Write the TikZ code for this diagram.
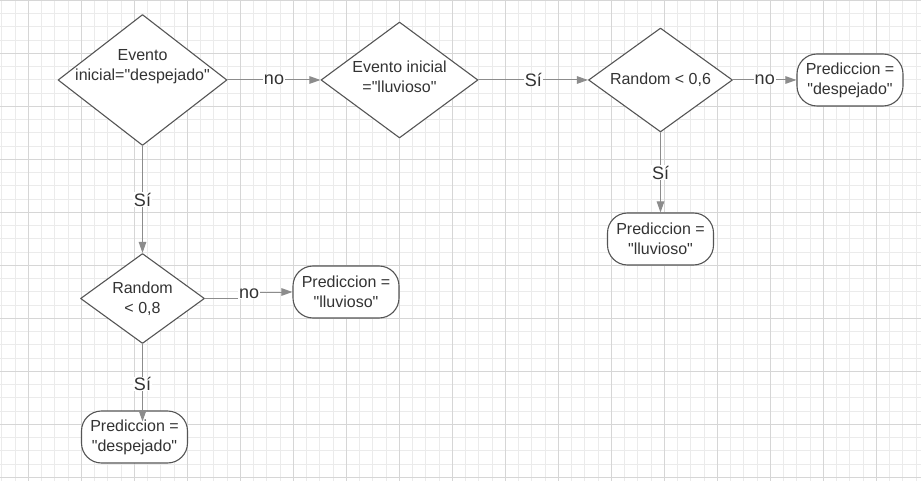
\documentclass[tikz,border=0pt]{standalone}
\usepackage{fontspec}
\setmainfont{Liberation Sans}[Ligatures=TeXOff]
\usepackage{xcolor}
\usepackage{tikz}
\usetikzlibrary{arrows.meta,positioning,shapes.geometric}
\definecolor{gridmajor}{HTML}{D6D6D6}
\definecolor{gridminor}{HTML}{EBEBEB}
\definecolor{shapeline}{HTML}{555555}
\definecolor{flowgray}{HTML}{8C8C8C}
\definecolor{ink}{HTML}{333333}
\tikzset{
    every picture/.style={line cap=round,line join=round},
    decision/.style={diamond,draw=shapeline,fill=white,line width=1.1pt,
      inner sep=0pt},
    dtext/.style={text=ink,font=\fontsize{16}{20}\selectfont,align=center,
      inner sep=0pt},
    outcome/.style={draw=shapeline,fill=white,line width=1.1pt,rounded corners=20pt,
      minimum width=106pt,minimum height=52pt,inner sep=2pt,
      text=ink,font=\fontsize{16}{20}\selectfont,align=center},
    flowarrow/.style={-{Triangle[length=11pt,width=7.5pt]},draw=flowgray,
      line width=1pt},
    edgelabel/.style={fill=white,inner xsep=1pt,inner ysep=0.5pt,
      text=ink,font=\fontsize{18}{21}\selectfont},
    gridfine/.style={draw=gridminor,line width=0.9pt},
    gridbold/.style={draw=gridmajor,line width=1pt}
}

\begin{document}
\begin{tikzpicture}[x=1pt,y=-1pt]
  \useasboundingbox[fill=white] (0,0) rectangle (921,481);
  \foreach \i in {0,...,69} \draw[gridfine] ({1.8+13.25*\i},0) -- ++(0,481);
  \foreach \i in {0,...,36} \draw[gridfine] (0,{0.3+13.25*\i}) -- ++(921,0);
  \foreach \i in {0,...,16} \draw[gridbold] ({28.3+53*\i},0) -- ++(0,481);
  \foreach \i in {0,...,9} \draw[gridbold] (0,{0.3+53*\i}) -- ++(921,0);

  \node[decision,minimum width=169pt,minimum height=131pt,
    label={[dtext,yshift=13pt]center:Evento\\inicial="despejado"}] (d1) at (142.5,80) {};
  \node[decision,minimum width=157pt,minimum height=116pt,
    label={[dtext,yshift=3pt]center:Evento inicial\\="lluvioso"}] (d2) at (399.5,80) {};
  \node[decision,minimum width=144pt,minimum height=104pt,
    label={[dtext]center:Random < 0,6}] (d3) at (660.5,80) {};
  \node[decision,minimum width=124pt,minimum height=90pt,
    label={[dtext]center:Random\\< 0,8}] (d4) at (142.5,298.5) {};

  \node[outcome] (b1) at (850,80) {Prediccion =\\"despejado"};
  \node[outcome] (b2) at (660.5,239) {Prediccion =\\"lluvioso"};
  \node[outcome] (b3) at (346,292) {Prediccion =\\"lluvioso"};
  \node[outcome] (b4) at (134.5,437) {Prediccion =\\"despejado"};

  \draw[flowarrow] (d1) -- node[edgelabel] (l1) {no} (d2);
  \draw[flowarrow] (d2) -- node[edgelabel] (l2) {Sí} (d3);
  \draw[flowarrow] (d3) -- node[edgelabel] (l3) {no} (b1);
  \draw[flowarrow] (d3) -- node[edgelabel] (l4) {Sí} (b2);
  \draw[flowarrow] (d1) -- node[edgelabel] (l5) {Sí} (d4);
  \draw[flowarrow] (d4.east) -- ++(44,0) node[edgelabel,yshift=5pt] (l6) {no} |- (b3.west);
  \draw[flowarrow,shorten >=-11pt] (d4) -- node[edgelabel,pos=0.6] (l7) {Sí} (d4.south |- b4.north);
\end{tikzpicture}
\end{document}
